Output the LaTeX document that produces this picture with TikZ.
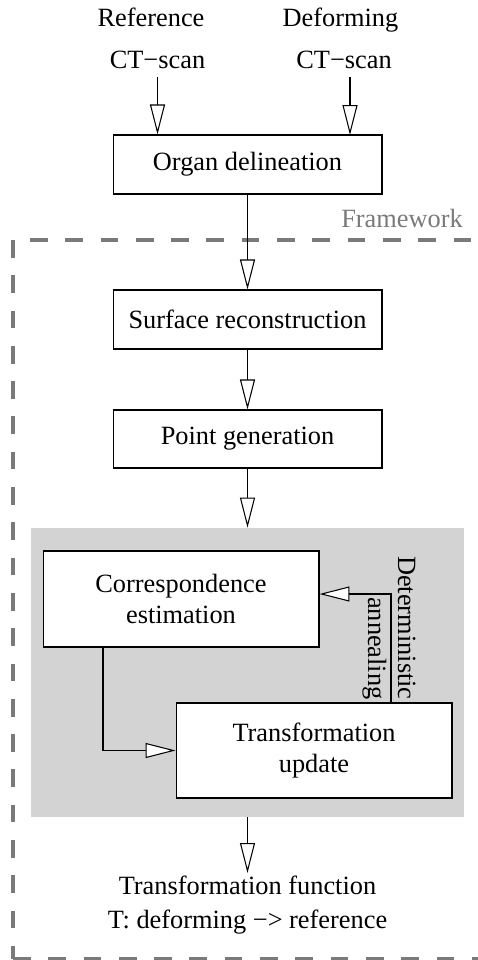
\documentclass[tikz,border=0pt]{standalone}
\usepackage{fontspec}
\setmainfont{Liberation Serif}
\usetikzlibrary{arrows.meta}
\definecolor{framegray}{RGB}{122,122,122}
\definecolor{loopgray}{RGB}{211,211,211}

\begin{document}
\begin{tikzpicture}[x=0.02cm, y=-0.02cm,
    font=\fontsize{15}{18}\selectfont,
    flow/.style={line width=0.6pt, -{Triangle[length=0.6cm, width=0.3cm, fill=white, line width=0.6pt]}},
    stage/.style={draw, line width=0.6pt, fill=white, inner sep=0pt, align=center},
    lbl/.style={inner sep=4.5pt},
    frame/.style={draw=framegray, line width=0.09cm, dash pattern=on 0.354cm off 0.352cm}]
    \useasboundingbox (0,0) rectangle (477,960);

    \draw[frame, dash phase=0.366cm] (13,240) -- (500,240);
    \draw[frame] (13,240) -- (13,959);
    \draw[frame] (13,959) -- (500,959);
    \node[text=framegray, anchor=base] (fwlabel) at (402,227) {Framework};

    \node[lbl, anchor=base] (refname) at (151,27) {Reference};
    \node[lbl, anchor=base] (refscan) at (157.5,68) {CT−scan};
    \node[lbl, anchor=base] (defname) at (340.5,27) {Deforming};
    \node[lbl, anchor=base] (defscan) at (344,68) {CT−scan};

    \node[stage, minimum width=5.38cm, minimum height=1.18cm] (organ) at (247.5,164.5) {Organ delineation};
    \node[stage, minimum width=5.38cm, minimum height=1.18cm] (surface) at (247.5,319.5) {Surface reconstruction};
    \node[stage, minimum width=5.38cm, minimum height=1.16cm] (points) at (247.5,439) {Point generation};

    \node[fill=loopgray, inner sep=0pt, minimum width=8.66cm, minimum height=5.78cm] (loop) at (247.5,672.5) {};
    \node[stage, minimum width=5.52cm, minimum height=1.92cm] (corr) at (181,599) {Correspondence\\estimation};
    \node[stage, minimum width=5.52cm, minimum height=1.9cm] (update) at (314,750.5) {Transformation\\update};
    \node[rotate=-90, anchor=base east, inner sep=0pt] (detword) at (398,700) {Deterministic};
    \node[rotate=-90, anchor=base east, inner sep=0pt] (annword) at (368,700) {annealing};

    \node[align=center, anchor=north, inner sep=1.7pt, font=\fontsize{15}{19}\selectfont] (result) at (247.5,873) {Transformation function\\T: deforming −> reference};

    \coordinate (defin) at (350,135);
    \coordinate (fw) at (103,751);
    \coordinate (fb) at (391,594);

    \draw[flow] (refscan.south) -- (refscan.south |- organ.north);
    \draw[flow] (defscan.south -| defin) -- (defin);
    \draw[flow] (organ) -- (surface);
    \draw[flow] (surface) -- (points);
    \draw[flow] (points) -- (loop);
    \draw[flow] (corr.south -| fw) |- (update.west);
    \draw[flow] (update.north -| fb) -- (fb) -- (fb -| corr.east);
    \draw[flow] (loop) -- (result);
\end{tikzpicture}
\end{document}
